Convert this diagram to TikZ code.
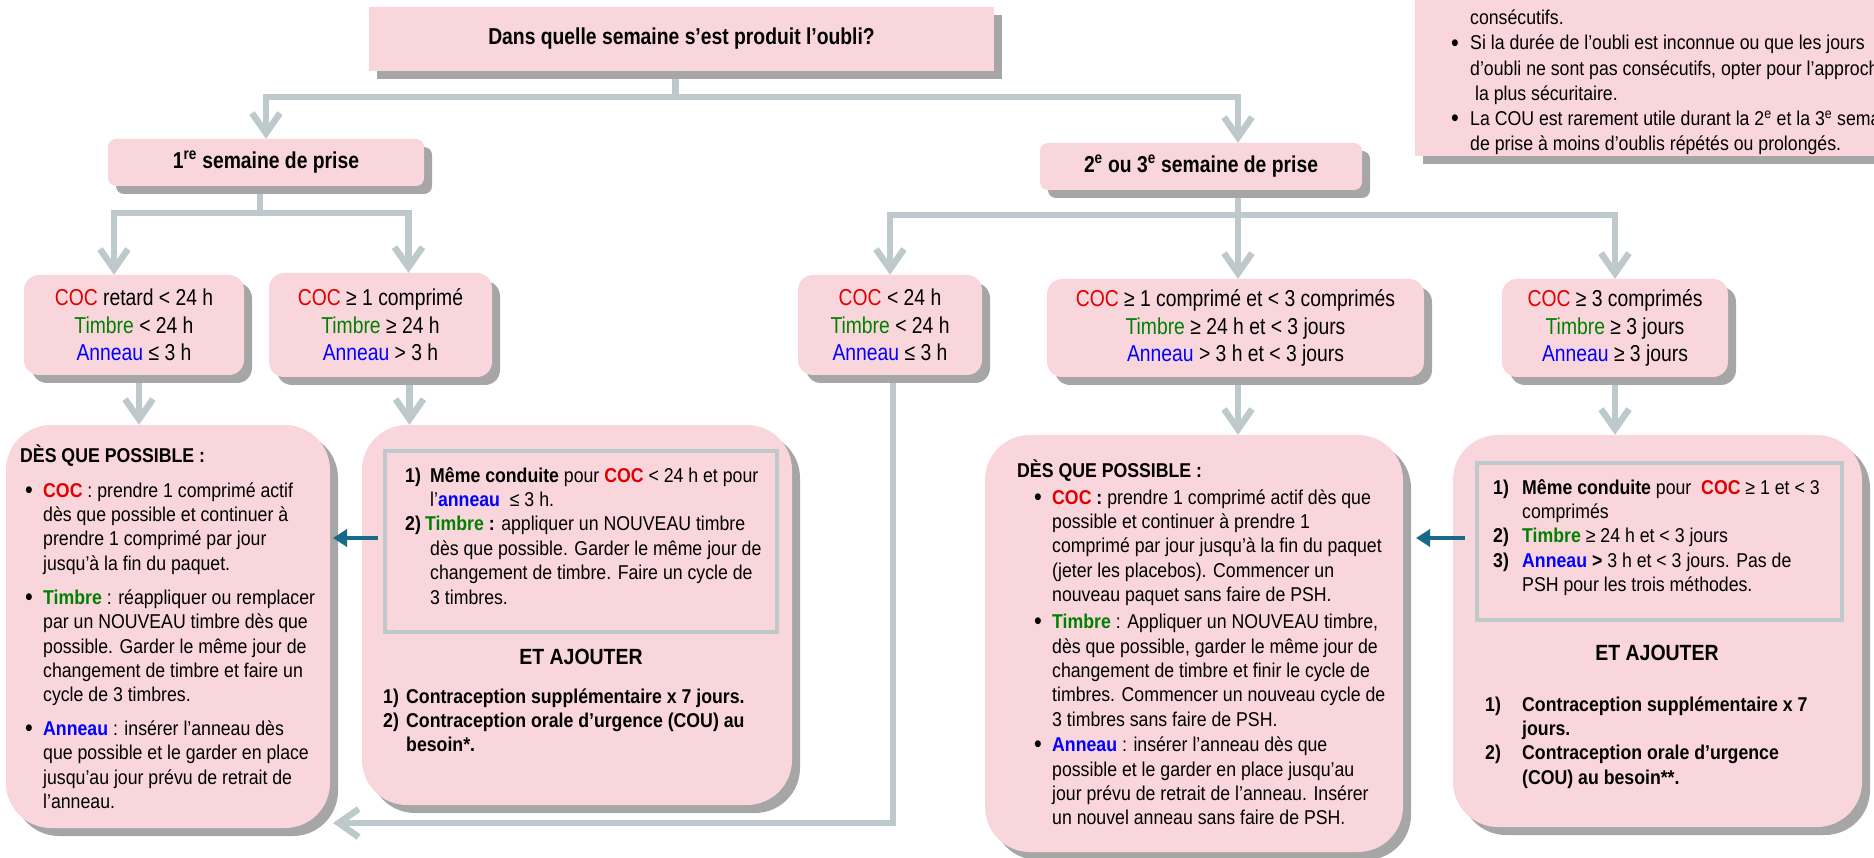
\documentclass[tikz,border=0pt]{standalone}
\usepackage{fontspec}
\setmainfont{Liberation Sans}[FakeStretch=0.885]
\newfontfamily\narrowf{Liberation Sans}[FakeStretch=0.84]
\usetikzlibrary{arrows.meta,shadows,backgrounds}
\definecolor{boxpink}{HTML}{F9D6DC}
\definecolor{shadowgray}{HTML}{A6A6A6}
\definecolor{conngray}{HTML}{BDC9CB}
\definecolor{arrowteal}{HTML}{1A6A87}
\definecolor{cocred}{HTML}{E00000}
\definecolor{timgreen}{HTML}{008000}
\definecolor{annblue}{HTML}{0000FF}
\newcommand{\cocw}[1]{\textcolor{cocred}{#1}}
\newcommand{\timw}[1]{\textcolor{timgreen}{#1}}
\newcommand{\annw}[1]{\textcolor{annblue}{#1}}
\newcommand{\bodyfont}{\fontsize{20}{24.4}\selectfont\lineskiplimit=-100pt\relax}
\newcommand{\condfont}{\narrowf\fontsize{23}{27.5}\selectfont\lineskiplimit=-100pt\relax}
\newcommand{\headfont}{\narrowf\bfseries\fontsize{23}{27.5}\selectfont}
\newcommand{\etfont}{\bfseries\fontsize{22}{26}\selectfont}
\newcommand{\notefont}{\fontsize{20}{25.2}\selectfont\lineskiplimit=-100pt\relax}
\newcommand{\bul}[1]{\makebox[#1][l]{\raisebox{-1.2pt}{\fontsize{25}{25}\selectfont •}}}
\newcommand{\num}[2]{\makebox[#1][l]{\textbf{#2}}}
\tikzset{
  pbox/.style={fill=boxpink, draw=none, inner sep=0pt,
    drop shadow={shadow xshift=8pt, shadow yshift=-8pt, fill=shadowgray, opacity=1}},
  cbox/.style={pbox, rounded corners=15pt, font=\condfont, align=center},
  bigbox/.style={pbox, rounded corners=45pt},
  innerbox/.style={draw=conngray, line width=3.5pt, inner sep=0pt, fill=none},
  txt/.style={inner sep=0pt, align=left},
  conn/.style={draw=conngray, line width=6.5pt, line join=miter},
  connarrow/.style={conn, -{Straight Barb[length=20pt,width=28pt]}},
  tealarrow/.style={draw=arrowteal, line width=4.5pt, -{Triangle[length=14pt,width=17pt]}}
}
\begin{document}
\begin{tikzpicture}[x=1pt,y=-1pt]
\useasboundingbox (0,0) rectangle (1874,858);
\clip (0,0) rectangle (1874,858);

% ---------- top level ----------
\node[pbox, minimum width=625pt, minimum height=64pt, font=\headfont] (top) at (681.5,39) {Dans quelle semaine s’est produit l’oubli?};
\node[pbox, rounded corners=8pt, minimum width=316pt, minimum height=47pt, font=\headfont] (w1) at (266,162.5) {1\textsuperscript{re} semaine de prise};
\node[pbox, rounded corners=8pt, minimum width=322pt, minimum height=47pt, font=\headfont] (w2) at (1201,166.5) {2\textsuperscript{e} ou 3\textsuperscript{e} semaine de prise};

% ---------- note box ----------
\node[pbox, minimum width=490pt, minimum height=190pt] (note) at (1660,61) {};
\node[txt, anchor=north west, font=\notefont] (notet) at (1451,6.9) {%
\hspace*{19pt}\strut consécutifs.\\
\bul{19pt}Si la durée de l’oubli est inconnue ou que les jours\\
\hspace*{19pt}d’oubli ne sont pas consécutifs, opter pour l’approche\\
\hspace*{19pt} la plus sécuritaire.\\
\bul{19pt}La COU est rarement utile durant la 2\textsuperscript{e} et la 3\textsuperscript{e} semaine\\
\hspace*{19pt}de prise à moins d’oublis répétés ou prolongés.};

% ---------- condition boxes ----------
\node[cbox, minimum width=220pt, minimum height=100pt] (a1) at (134,325) {\cocw{COC} retard < 24 h\\\timw{Timbre} < 24 h\\\annw{Anneau} ≤ 3 h};
\node[cbox, minimum width=223pt, minimum height=104pt] (a2) at (380.5,325) {\cocw{COC} ≥ 1 comprimé\\\timw{Timbre} ≥ 24 h\\\annw{Anneau} > 3 h};
\node[cbox, minimum width=184pt, minimum height=100pt] (b1) at (890,325) {\cocw{COC} < 24 h\\\timw{Timbre} < 24 h\\\annw{Anneau} ≤ 3 h};
\node[cbox, minimum width=377pt, minimum height=98pt] (b2) at (1235.5,328) {\cocw{COC} ≥ 1 comprimé et < 3 comprimés\\\timw{Timbre} ≥ 24 h et < 3 jours\\\annw{Anneau} > 3 h et < 3 jours};
\node[cbox, minimum width=226pt, minimum height=98pt] (b3) at (1615,328) {\cocw{COC} ≥ 3 comprimés\\\timw{Timbre} ≥ 3 jours\\\annw{Anneau} ≥ 3 jours};

% ---------- big boxes ----------
\node[bigbox, minimum width=324pt, minimum height=403pt] (c1) at (168,626.5) {};
\node[bigbox, minimum width=430pt, minimum height=380pt] (c2) at (577,615) {};
\node[bigbox, minimum width=418pt, minimum height=417pt] (c3) at (1194,643.5) {};
\node[bigbox, minimum width=409pt, minimum height=392pt] (c4) at (1657.5,631) {};
\node[innerbox, minimum width=392pt, minimum height=181pt] (c2in) at (581,541.5) {};
\node[innerbox, minimum width=365pt, minimum height=157pt] (c4in) at (1659.5,541.5) {};

% C1 text
\node[txt, anchor=base west, font={\bodyfont\bfseries}] (c1h) at (20,462) {DÈS QUE POSSIBLE :};
\node[txt, anchor=north west, font=\bodyfont] (c1l) at (25,479.9) {%
\bul{18pt}\strut\textbf{\cocw{COC}} : prendre 1 comprimé actif\\
\hspace*{18pt}dès que possible et continuer à\\
\hspace*{18pt}prendre 1 comprimé par jour\\
\hspace*{18pt}jusqu’à la fin du paquet.\\[9.5pt]
\bul{18pt}\textbf{\timw{Timbre}} : réappliquer ou remplacer\\
\hspace*{18pt}par un NOUVEAU timbre dès que\\
\hspace*{18pt}possible. Garder le même jour de\\
\hspace*{18pt}changement de timbre et faire un\\
\hspace*{18pt}cycle de 3 timbres.\\[9pt]
\bul{18pt}\textbf{\annw{Anneau}} : insérer l’anneau dès\\
\hspace*{18pt}que possible et le garder en place\\
\hspace*{18pt}jusqu’au jour prévu de retrait de\\
\hspace*{18pt}l’anneau.};

% C2 text
\node[txt, anchor=north west, font=\bodyfont] (c2l) at (405,464.9) {%
\num{25pt}{1)}\strut\textbf{Même conduite} pour \textbf{\cocw{COC}} < 24 h et pour\\
\hspace*{25pt}l’\textbf{\annw{anneau}}\ \ ≤ 3 h.\\
\num{20pt}{2)}\textbf{\timw{Timbre} :} appliquer un NOUVEAU timbre\\
\hspace*{25pt}dès que possible. Garder le même jour de\\
\hspace*{25pt}changement de timbre. Faire un cycle de\\
\hspace*{25pt}3 timbres.};
\node[txt, font=\etfont] (c2et) at (581,657) {ET AJOUTER};
\node[txt, anchor=north west, font={\bodyfont\bfseries}] (c2a) at (383,685.9) {%
\makebox[23pt][l]{1)}\strut Contraception supplémentaire x 7 jours.\\
\makebox[23pt][l]{2)}Contraception orale d’urgence (COU) au\\
\hspace*{23pt}besoin*.};

% C3 text
\node[txt, anchor=base west, font={\bodyfont\bfseries}] (c3h) at (1017,477) {DÈS QUE POSSIBLE :};
\node[txt, anchor=north west, font=\bodyfont] (c3l) at (1034,486.9) {%
\bul{18pt}\strut\textbf{\cocw{COC} :} prendre 1 comprimé actif dès que\\
\hspace*{18pt}possible et continuer à prendre 1\\
\hspace*{18pt}comprimé par jour jusqu’à la fin du paquet\\
\hspace*{18pt}(jeter les placebos). Commencer un\\
\hspace*{18pt}nouveau paquet sans faire de PSH.\\[2.5pt]
\bul{18pt}\textbf{\timw{Timbre}} : Appliquer un NOUVEAU timbre,\\
\hspace*{18pt}dès que possible, garder le même jour de\\
\hspace*{18pt}changement de timbre et finir le cycle de\\
\hspace*{18pt}timbres. Commencer un nouveau cycle de\\
\hspace*{18pt}3 timbres sans faire de PSH.\\[1pt]
\bul{18pt}\textbf{\annw{Anneau}} : insérer l’anneau dès que\\
\hspace*{18pt}possible et le garder en place jusqu’au\\
\hspace*{18pt}jour prévu de retrait de l’anneau. Insérer\\
\hspace*{18pt}un nouvel anneau sans faire de PSH.};

% C4 text
\node[txt, anchor=north west, font=\bodyfont] (c4l) at (1493,476.9) {%
\num{29pt}{1)}\strut\textbf{Même conduite} pour\ \ \textbf{\cocw{COC}} ≥ 1 et < 3\\
\hspace*{29pt}comprimés\\
\num{29pt}{2)}\textbf{\timw{Timbre}} ≥ 24 h et < 3 jours\\
\num{29pt}{3)}\textbf{\annw{Anneau} >} 3 h et < 3 jours. Pas de\\
\hspace*{29pt}PSH pour les trois méthodes.};
\node[txt, font=\etfont] (c4et) at (1657,653) {ET AJOUTER};
\node[txt, anchor=north west, font={\bodyfont\bfseries}] (c4a) at (1485,693.9) {%
\makebox[37pt][l]{1)}\strut Contraception supplémentaire x 7\\
\hspace*{37pt}jours.\\
\makebox[37pt][l]{2)}Contraception orale d’urgence\\
\hspace*{37pt}(COU) au besoin**.};

% ---------- teal arrows ----------
\coordinate (t1s) at (378,538);
\coordinate (t1e) at (333,538);
\coordinate (t2s) at (1465,538);
\coordinate (t2e) at (1416,538);
\draw[tealarrow] (t1s) -- (t1e);
\draw[tealarrow] (t2s) -- (t2e);

% ---------- connectors ----------
\begin{scope}[on background layer]
\draw[conn] ([xshift=-6pt]top.south) -- ++(0,26) coordinate (j1);
\draw[connarrow] (j1) -| (w1.north);
\draw[connarrow] (j1) -| ([xshift=37pt]w2.north);
\draw[conn] ([xshift=-6pt]w1.south) -- ++(0,27) coordinate (j2);
\draw[connarrow] (j2) -| ([xshift=-20pt]a1.north);
\draw[connarrow] (j2) -| ([xshift=28pt]a2.north);
\draw[conn] ([xshift=37pt]w2.south) -- ++(0,25) coordinate (j3);
\draw[connarrow] (j3) -| (b1.north);
\draw[connarrow] (j3) -- (j3 |- b2.north);
\draw[connarrow] (j3) -| (b3.north);
\draw[connarrow] ([xshift=5pt]a1.south) -- ([xshift=5pt]a1.south |- c1.north);
\draw[connarrow] ([xshift=29pt]a2.south) -- ([xshift=29pt]a2.south |- c2.north);
\draw[connarrow] (j3 |- b2.south) -- (j3 |- c3.north);
\draw[connarrow] (b3.south) -- (b3.south |- c4.north);
\coordinate (b1end) at (333,823);
\draw[connarrow] ([xshift=3pt]b1.south) |- (b1end);
\end{scope}
\end{tikzpicture}
\end{document}
